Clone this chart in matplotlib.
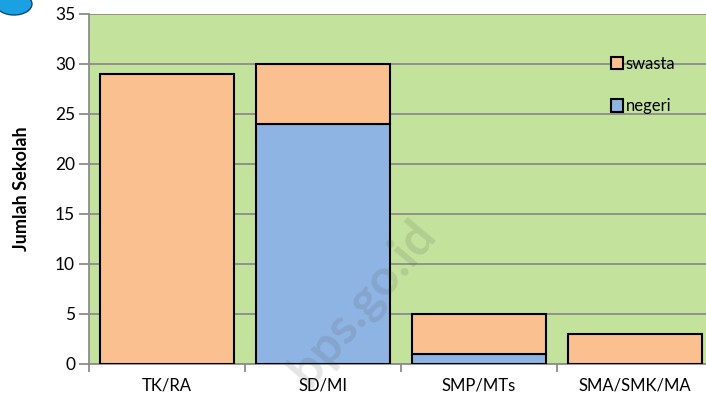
import matplotlib
matplotlib.use("Agg")
import matplotlib.pyplot as plt
import numpy as np
from matplotlib.patches import Patch, Ellipse

categories = ["TK/RA", "SD/MI", "SMP/MTs", "SMA/SMK/MA"]
negeri = [0, 24, 1, 0]
swasta = [29, 6, 4, 3]
yticks = [0, 5, 10, 15, 20, 25, 30, 35]

plt.rcParams['font.family'] = ['Lato', 'DejaVu Sans']

fig = plt.figure(figsize=(7.06, 4.04), dpi=100)
W, H = 706, 404
left, right, top, bottom = 89, 713, 14, 364
ax = fig.add_axes([left / W, 1 - bottom / H, (right - left) / W, (bottom - top) / H])
ax.set_facecolor("#C3E39C")

x = np.arange(len(categories))
bw = 0.865
ax.bar(x, negeri, width=bw, color="#8EB4E3", edgecolor="black", linewidth=1.5, label="negeri", zorder=3)
ax.bar(x, swasta, width=bw, bottom=negeri, color="#FAC090", edgecolor="black", linewidth=1.5, label="swasta", zorder=3)

ax.set_xlim(-0.5, len(categories) - 0.5)
ax.set_ylim(0, 35)
ax.set_yticks(yticks)
ax.set_yticklabels([str(v) for v in yticks], fontsize=12.5)
ax.yaxis.grid(True, color="#8C8C8C", linewidth=1.3, zorder=0)
ax.set_axisbelow(True)

ax.set_xticks(x)
ax.set_xticklabels(categories, fontsize=12)
ax.tick_params(axis='x', length=0, pad=10)
ax.set_xticks(np.arange(-0.5, len(categories)), minor=True)
ax.tick_params(axis='x', which='minor', length=6, color="#8C8C8C", width=1.3)
ax.tick_params(axis='y', length=7, color="#8C8C8C", width=1.3, pad=3)

for s in ["top", "right"]:
    ax.spines[s].set_visible(False)
ax.spines["bottom"].set_color("#8C8C8C")
ax.spines["bottom"].set_linewidth(1.3)
ax.spines["left"].set_color("#8C8C8C")
ax.spines["left"].set_linewidth(1.3)

ax.set_ylabel("Jumlah Sekolah", fontsize=13, fontweight="bold")
ax.yaxis.set_label_coords((30 - left) / (right - left), 0.5)

handles = [Patch(facecolor="#FAC090", edgecolor="black", linewidth=1.5, label="swasta"),
           Patch(facecolor="#8EB4E3", edgecolor="black", linewidth=1.5, label="negeri")]
leg = ax.legend(handles=handles, loc="upper left",
                bbox_to_anchor=((604 - left) / (right - left), 1 - (49 - top) / (bottom - top)),
                frameon=False, fontsize=12, handlelength=0.75, handleheight=0.75, handletextpad=0.15,
                labelspacing=1.6, borderaxespad=0)

# watermark
fig.text(362 / W, 1 - 302 / H, "bps.go.id", rotation=50, fontsize=36, fontweight="bold",
         color="#505050", alpha=0.15, ha="center", va="center")

# logo hint
fig.patches.append(Ellipse((14 / W, 1 - 4 / H), 36 / W, 22 / H, transform=fig.transFigure,
                           facecolor="#1BA1E2", edgecolor="#0A4A80", linewidth=1))

fig.savefig("out.png", dpi=100)
